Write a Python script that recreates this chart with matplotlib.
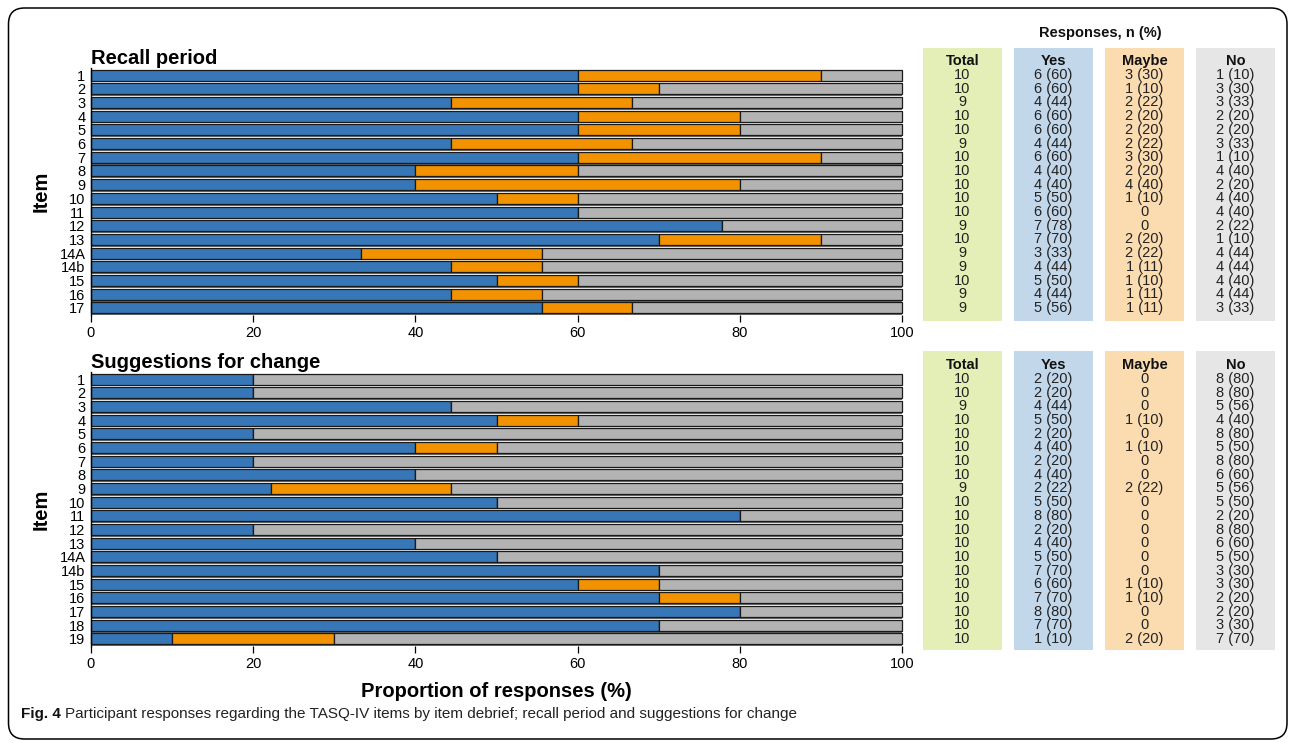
import matplotlib
matplotlib.use('Agg')
import matplotlib.pyplot as plt
from matplotlib import transforms
from matplotlib.patches import Rectangle, FancyBboxPatch

plt.rcParams['font.family'] = ['Liberation Sans', 'DejaVu Sans']

# --- data ---
recall_items = ['1', '2', '3', '4', '5', '6', '7', '8', '9', '10', '11', '12', '13',
                '14A', '14b', '15', '16', '17']
recall_total = [10, 10, 9, 10, 10, 9, 10, 10, 10, 10, 10, 9, 10, 9, 9, 10, 9, 9]
recall_yes = [6, 6, 4, 6, 6, 4, 6, 4, 4, 5, 6, 7, 7, 3, 4, 5, 4, 5]
recall_maybe = [3, 1, 2, 2, 2, 2, 3, 2, 4, 1, 0, 0, 2, 2, 1, 1, 1, 1]
recall_no = [1, 3, 3, 2, 2, 3, 1, 4, 2, 4, 4, 2, 1, 4, 4, 4, 4, 3]

change_items = ['1', '2', '3', '4', '5', '6', '7', '8', '9', '10', '11', '12', '13',
                '14A', '14b', '15', '16', '17', '18', '19']
change_total = [10, 10, 9, 10, 10, 10, 10, 10, 9, 10, 10, 10, 10, 10, 10, 10, 10, 10, 10, 10]
change_yes = [2, 2, 4, 5, 2, 4, 2, 4, 2, 5, 8, 2, 4, 5, 7, 6, 7, 8, 7, 1]
change_maybe = [0, 0, 0, 1, 0, 1, 0, 0, 2, 0, 0, 0, 0, 0, 0, 1, 1, 0, 0, 2]
change_no = [8, 8, 5, 4, 8, 5, 8, 6, 5, 5, 2, 8, 6, 5, 3, 3, 2, 2, 3, 7]

xticks = [0, 20, 40, 60, 80, 100]
col_names = ['Total', 'Yes', 'Maybe', 'No']

C_YES = '#3777b8'
C_MAYBE = '#f39200'
C_NO = '#b3b3b3'
BG = ['#e3efb6', '#c3d7ea', '#fbdcb1', '#e6e6e6']

W, H = 1292, 743
fig = plt.figure(figsize=(W / 100, H / 100), dpi=100)


def fx(px):
    return px / W


def fy(py):
    return 1 - py / H


# column placement of the side table (pixels)
col_left = [923, 1014, 1105, 1196]
col_w = 79


def cell(n, t):
    if n == 0:
        return '0'
    return '%d (%d)' % (n, round(100 * n / t))


def panel(ax, items, total, yes, maybe, no, title, bg_top, bg_bot):
    n = len(items)
    ypos = list(range(n))
    p_yes = [100 * a / t for a, t in zip(yes, total)]
    p_may = [100 * a / t for a, t in zip(maybe, total)]
    p_no = [100 * a / t for a, t in zip(no, total)]
    left_no = [a + b for a, b in zip(p_yes, p_may)]
    p_all = [a + b + c for a, b, c in zip(p_yes, p_may, p_no)]

    # drop shadow
    ax.barh([y + 0.13 for y in ypos], p_all, height=0.8, color='#6a6a6a',
            zorder=1, clip_on=False)
    kw = dict(height=0.8, edgecolor='#1a1a1a', linewidth=0.9, zorder=2, clip_on=False)
    ax.barh(ypos, p_yes, color=C_YES, **kw)
    ax.barh(ypos, p_may, left=p_yes, color=C_MAYBE, **kw)
    ax.barh(ypos, p_no, left=left_no, color=C_NO, **kw)

    ax.set_xlim(0, 100)
    ax.set_ylim(n - 0.5, -0.5)
    ax.set_yticks(ypos)
    ax.set_yticklabels(items)
    ax.set_xticks(xticks)
    ax.tick_params(axis='y', length=0, pad=4, labelsize=10.5)
    ax.tick_params(axis='x', length=5, width=0.9, pad=3, labelsize=10.5)
    for s in ['top', 'right', 'bottom']:
        ax.spines[s].set_visible(False)
    ax.spines['left'].set_linewidth(1.0)
    ax.set_ylabel('Item', fontsize=14.5, fontweight='bold', labelpad=6)
    ax.set_title(title, loc='left', fontsize=14.5, fontweight='bold', pad=2)

    # side table
    for left, c in zip(col_left, BG):
        fig.patches.append(Rectangle((fx(left), fy(bg_bot)), col_w / W,
                                     (bg_bot - bg_top) / H, transform=fig.transFigure,
                                     facecolor=c, edgecolor='none', zorder=0))
    tr = transforms.blended_transform_factory(fig.transFigure, ax.transData)
    cols = [[str(t) for t in total],
            [cell(a, t) for a, t in zip(yes, total)],
            [cell(a, t) for a, t in zip(maybe, total)],
            [cell(a, t) for a, t in zip(no, total)]]
    for left, name, vals in zip(col_left, col_names, cols):
        cx = fx(left + col_w / 2)
        fig.text(cx, -1, name, transform=tr, ha='center', va='center',
                 fontsize=10.5, fontweight='bold', color='#111111')
        for i, v in enumerate(vals):
            fig.text(cx, i, v, transform=tr, ha='center', va='center',
                     fontsize=10.5, color='#222222')


ax1 = fig.add_axes([fx(91), fy(314.8), (902 - 91) / W, (314.8 - 68.2) / H])
ax2 = fig.add_axes([fx(91), fy(645.8), (902 - 91) / W, (645.8 - 372.2) / H])

panel(ax1, recall_items, recall_total, recall_yes, recall_maybe, recall_no,
      'Recall period', 47.7, 320.7)
panel(ax2, change_items, change_total, change_yes, change_maybe, change_no,
      'Suggestions for change', 351, 650)

ax2.set_xlabel('Proportion of responses (%)', fontsize=14.5, fontweight='bold',
               labelpad=8)

fig.text(fx(1100), fy(33), 'Responses, n (%)', ha='center', va='center',
         fontsize=10.5, fontweight='bold', color='#111111')

# rounded frame
fig.patches.append(FancyBboxPatch((0.085, 0.04), 12.785, 7.31,
                                  boxstyle='round,pad=0,rounding_size=0.16',
                                  transform=fig.dpi_scale_trans, facecolor='none',
                                  edgecolor='black', linewidth=1.1, zorder=5))

# caption
t1 = fig.text(fx(21), fy(714), 'Fig. 4', fontsize=11, fontweight='bold',
              va='center', ha='left', color='#111111')
fig.canvas.draw()
bb = t1.get_window_extent(fig.canvas.get_renderer())
fig.text(bb.x1 / W + fx(4), fy(714),
         'Participant responses regarding the TASQ-IV items by item debrief; '
         'recall period and suggestions for change',
         fontsize=11, va='center', ha='left', color='#222222')

fig.savefig('out.png', dpi=100)
